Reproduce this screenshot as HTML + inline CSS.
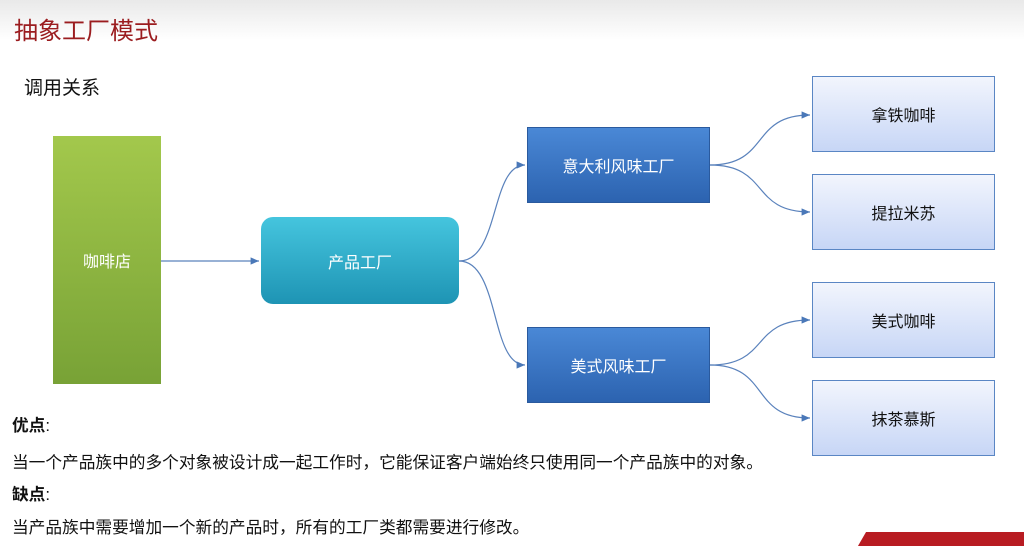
<!DOCTYPE html>
<html><head><meta charset="utf-8"><style>
body{margin:0;width:1024px;height:545px;overflow:hidden;background:#fff;font-family:"Liberation Sans","Noto Sans CJK SC",sans-serif;position:relative}
.a{position:absolute;display:flex;align-items:center;justify-content:center;font-size:16px}
.top{position:absolute;left:0;top:0;width:1024px;height:40px;background:linear-gradient(#e9e9e9,#fff)}
.r{left:812px;width:181px;height:74px;border:1px solid #5a86c4;background:linear-gradient(#f2f5fd,#c7d6f6);color:#111}
.b{left:527px;width:183px;height:76px;background:linear-gradient(#4a88d6,#2c63b0);color:#fff;border:1px solid #2a5a9e;box-sizing:border-box}
.t{position:absolute;left:12px;font-size:16.7px;color:#111}
</style></head><body>
<div class="top"></div>
<div style="position:absolute;left:14px;top:11px;font-size:24px;color:#9b1c1f">抽象工厂模式</div>
<div style="position:absolute;left:24px;top:73px;font-size:19px;color:#111">调用关系</div>
<div class="a" style="left:53px;top:136px;width:108px;height:248px;background:linear-gradient(#a3c84c,#78a236);color:#fff">咖啡店</div>
<div class="a" style="left:261px;top:217px;width:198px;height:87px;border-radius:12px;background:linear-gradient(#45c5de,#1e94b4);color:#fff">产品工厂</div>
<div class="a b" style="top:127px">意大利风味工厂</div>
<div class="a b" style="top:327px">美式风味工厂</div>
<div class="a r" style="top:76px">拿铁咖啡</div>
<div class="a r" style="top:174px">提拉米苏</div>
<div class="a r" style="top:282px">美式咖啡</div>
<div class="a r" style="top:380px">抹茶慕斯</div>
<svg style="position:absolute;left:0;top:0" width="1024" height="545">
<defs><marker id="m" markerWidth="8" markerHeight="8" refX="7" refY="4" orient="auto"><path d="M0,1 L7,4 L0,7 Z" fill="#4a78b8"/></marker></defs>
<g stroke="#5a82bc" stroke-width="1.2" fill="none" marker-end="url(#m)">
<path d="M161,261 L259,261"/>
<path d="M459,261 C500,261 490,165 525,165"/>
<path d="M459,261 C500,261 490,365 525,365"/>
<path d="M710,165 C770,165 750,115 810,115"/>
<path d="M710,165 C770,165 750,212 810,212"/>
<path d="M710,365 C770,365 750,320 810,320"/>
<path d="M710,365 C770,365 750,418 810,418"/>
</g></svg>
<div class="t" style="top:412px;font-weight:bold">优点<span style="font-weight:normal">:</span></div>
<div class="t" style="top:449px">当一个产品族中的多个对象被设计成一起工作时，它能保证客户端始终只使用同一个产品族中的对象。</div>
<div class="t" style="top:481px;font-weight:bold">缺点<span style="font-weight:normal">:</span></div>
<div class="t" style="top:514px">当产品族中需要增加一个新的产品时，所有的工厂类都需要进行修改。</div>
<div style="position:absolute;left:862px;top:532px;width:170px;height:14px;background:#b81c22;transform:skewX(-30deg)"></div>
</body></html>
